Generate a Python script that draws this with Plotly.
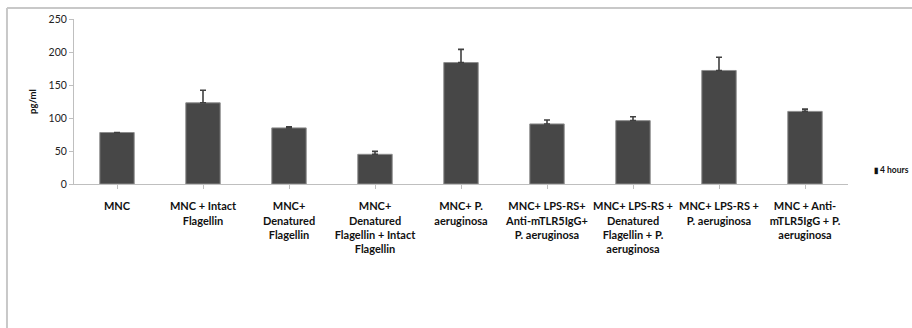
import plotly.graph_objects as go

categories = [
    "MNC",
    "MNC + Intact<br>Flagellin",
    "MNC+<br>Denatured<br>Flagellin",
    "MNC+<br>Denatured<br>Flagellin + Intact<br>Flagellin",
    "MNC+ P.<br>aeruginosa",
    "MNC+ LPS-RS+<br>Anti-mTLR5IgG+<br>P. aeruginosa",
    "MNC+ LPS-RS +<br>Denatured<br>Flagellin + P.<br>aeruginosa",
    "MNC+ LPS-RS +<br>P. aeruginosa",
    "MNC + Anti-<br>mTLR5IgG + P.<br>aeruginosa",
]
values = [78, 123, 85, 45, 184, 91, 96, 172, 110]
errors = [0, 19, 1.5, 4.5, 20, 6, 6, 20, 3.5]
series_name = "4 hours"
y_ticks = [0, 50, 100, 150, 200, 250]

FONT = "Lato"

fig = go.Figure()
fig.add_trace(go.Bar(
    x=list(range(len(categories))),
    y=values,
    name=series_name,
    width=0.4,
    marker=dict(color="#474747", line=dict(color="#8c8c8c", width=1)),
    error_y=dict(type="data", symmetric=False, array=errors,
                 arrayminus=[0] * len(errors),
                 color="#404040", thickness=1.6, width=3),
    showlegend=False,
))

fig.update_layout(
    width=912, height=328,
    margin=dict(l=74, r=64, t=19, b=144),
    paper_bgcolor="white", plot_bgcolor="white",
    font=dict(family=FONT, color="#222222"),
    bargap=0.6,
    xaxis=dict(
        tickmode="array",
        tickvals=list(range(len(categories))),
        ticktext=["<b>%s</b>" % c for c in categories],
        range=[-0.5, len(categories) - 0.5],
        tickson="boundaries",
        ticks="outside", ticklen=4, tickcolor="#bfbfbf",
        showline=True, linecolor="#bfbfbf", linewidth=1,
        showgrid=False, zeroline=False,
        tickfont=dict(size=11, family=FONT, color="#111111"),
        tickangle=0,
        ticklabelstandoff=8,
    ),
    yaxis=dict(
        range=[0, 250],
        tickvals=y_ticks,
        ticks="outside", ticklen=4, tickcolor="#bfbfbf",
        showline=True, linecolor="#bfbfbf", linewidth=1,
        showgrid=False, zeroline=False,
        tickfont=dict(size=10.5, family=FONT, color="#222222"),
        title=dict(text="<b>pg/ml</b>", font=dict(size=9.5, family=FONT, color="#111111"), standoff=10),
    ),
    shapes=[
        dict(type="line", xref="paper", yref="paper",
             x0=-0.0866, x1=2.0, y0=1.0667, y1=1.0667,
             line=dict(color="#c8c8c8", width=2)),
        dict(type="line", xref="paper", yref="paper",
             x0=-0.0866, x1=-0.0866, y0=-2.0, y1=1.0667,
             line=dict(color="#c8c8c8", width=2)),
    ],
    annotations=[
        dict(xref="paper", yref="paper", x=1.031, y=0.085,
             xanchor="left", yanchor="middle", showarrow=False,
             text="<b><span style='font-size:8px'>▮</span> %s</b>" % series_name,
             font=dict(size=8.5, family=FONT, color="#111111")),
    ],
)

fig.write_html("out.html", config={"displayModeBar": False},
               post_script="document.body.style.margin='0';document.body.style.overflow='hidden';")
